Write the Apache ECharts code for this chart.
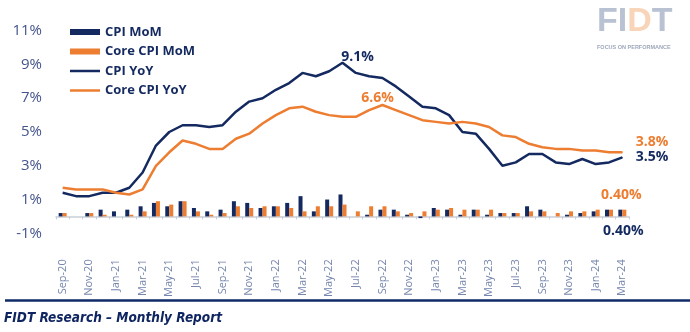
<!DOCTYPE html>
<html><head><meta charset="utf-8">
<script src="https://cdn.jsdelivr.net/npm/echarts@6/dist/echarts.min.js"></script>
<style>html,body{margin:0;padding:0;background:#fff}#c{width:690px;height:332px}</style>
</head><body><div id="c"></div>
<script>
const categories = ['Sep-20','Oct-20','Nov-20','Dec-20','Jan-21','Feb-21','Mar-21','Apr-21','May-21','Jun-21','Jul-21','Aug-21','Sep-21','Oct-21','Nov-21','Dec-21','Jan-22','Feb-22','Mar-22','Apr-22','May-22','Jun-22','Jul-22','Aug-22','Sep-22','Oct-22','Nov-22','Dec-22','Jan-23','Feb-23','Mar-23','Apr-23','May-23','Jun-23','Jul-23','Aug-23','Sep-23','Oct-23','Nov-23','Dec-23','Jan-24','Feb-24','Mar-24'];
const cpiMoM  = [0.2,0.0,0.2,0.4,0.3,0.4,0.6,0.8,0.6,0.9,0.5,0.3,0.4,0.9,0.8,0.5,0.6,0.8,1.2,0.3,1.0,1.3,0.0,0.1,0.4,0.4,0.1,-0.1,0.5,0.4,0.1,0.4,0.1,0.2,0.2,0.6,0.4,0.0,0.1,0.2,0.3,0.4,0.4];
const coreMoM = [0.2,0.0,0.2,0.1,0.0,0.1,0.3,0.9,0.7,0.9,0.3,0.1,0.2,0.6,0.5,0.6,0.6,0.5,0.3,0.6,0.6,0.7,0.3,0.6,0.6,0.3,0.2,0.3,0.4,0.5,0.4,0.4,0.4,0.2,0.2,0.3,0.3,0.2,0.3,0.3,0.4,0.4,0.4];
const cpiYoY  = [1.4,1.2,1.2,1.4,1.4,1.7,2.6,4.2,5.0,5.4,5.4,5.3,5.4,6.2,6.8,7.0,7.5,7.9,8.5,8.3,8.6,9.1,8.5,8.3,8.2,7.7,7.1,6.5,6.4,6.0,5.0,4.9,4.0,3.0,3.2,3.7,3.7,3.2,3.1,3.4,3.1,3.2,3.5];
const coreYoY = [1.7,1.6,1.6,1.6,1.4,1.3,1.6,3.0,3.8,4.5,4.3,4.0,4.0,4.6,4.9,5.5,6.0,6.4,6.5,6.2,6.0,5.9,5.9,6.3,6.6,6.3,6.0,5.7,5.6,5.5,5.6,5.5,5.3,4.8,4.7,4.3,4.1,4.0,4.0,3.9,3.9,3.8,3.8];
const seriesNames = ['CPI MoM','Core CPI MoM','CPI YoY','Core CPI YoY'];
const yMin = -1, yMax = 11, yStep = 2;

const NAVY = '#13295f', ORANGE = '#ed7d31';
const last = categories.length - 1;
const LINE_ICON = 'path://M0,0L36,0L36,3L0,3Z';

function lineData(arr, color, peakOffset) {
  const peak = arr.indexOf(Math.max(...arr));
  return arr.map((v, i) => {
    if (i === peak) return {value: v, symbol: 'circle', symbolSize: 1,
      label: {show: true, position: 'top', offset: peakOffset, formatter: p => p.value.toFixed(1) + '%',
        color: color, fontWeight: 'bold', fontSize: 14, fontFamily: 'Open Sans'}};
    if (i === last) return {value: v, symbol: 'circle', symbolSize: 1,
      label: {show: true, position: 'right', distance: 13, offset: color === ORANGE ? [0, -10] : [0, 0],
        formatter: p => p.value.toFixed(1) + '%', color: color, fontWeight: 'bold', fontSize: 14, fontFamily: 'Open Sans'}};
    return v;
  });
}
function barData(arr, color, pos, off) {
  return arr.map((v, i) => i === last ? {value: v, label: {show: true, position: pos, distance: 8, offset: off,
    formatter: p => p.value.toFixed(2) + '%', color: color, fontWeight: 'bold', fontSize: 14, fontFamily: 'Open Sans'}} : v);
}

const chart = echarts.init(document.getElementById('c'), null, {renderer: 'canvas'});
chart.setOption({
  animation: false,
  backgroundColor: '#fff',
  grid: {left: 56, right: 61, top: 30.7, bottom: 98.7, containLabel: false},
  legend: {
    orient: 'vertical', left: 70, top: 25, padding: 0, itemWidth: 30, itemHeight: 6, itemGap: 5.5,
    data: [
      {name: seriesNames[0], icon: 'rect'},
      {name: seriesNames[1], icon: 'rect'},
      {name: seriesNames[2], icon: LINE_ICON, itemStyle: {color: NAVY}},
      {name: seriesNames[3], icon: LINE_ICON, itemStyle: {color: ORANGE}}
    ],
    textStyle: {color: NAVY, fontWeight: 'bold', fontSize: 13, fontFamily: 'Open Sans', lineHeight: 14}
  },
  xAxis: {
    type: 'category', data: categories,
    axisLine: {onZero: true, lineStyle: {color: '#c9ced8', width: 1.5}},
    axisTick: {show: true, interval: 0, length: 3, lineStyle: {color: '#c9ced8'}},
    axisLabel: {interval: 1, rotate: 90, margin: 26, fontSize: 11, color: '#7585ad', fontFamily: 'Open Sans'}
  },
  yAxis: {
    type: 'value', min: yMin, max: yMax, interval: yStep,
    axisLine: {show: false}, axisTick: {show: false}, splitLine: {show: false},
    axisLabel: {margin: 14, fontSize: 15, color: '#44548c', fontFamily: 'Open Sans', formatter: v => v + '%'}
  },
  series: [
    {name: seriesNames[0], type: 'bar', data: barData(cpiMoM, NAVY, 'bottom', [3, 0]), barWidth: 4, barGap: '0%', itemStyle: {color: NAVY}},
    {name: seriesNames[1], type: 'bar', data: barData(coreMoM, ORANGE, 'top', [-3, 0]), barWidth: 4, barGap: '0%', itemStyle: {color: ORANGE}},
    {name: seriesNames[2], type: 'line', data: lineData(cpiYoY, NAVY, [15, 7]), symbol: 'none', lineStyle: {color: NAVY, width: 2.5}, itemStyle: {color: NAVY}, z: 3},
    {name: seriesNames[3], type: 'line', data: lineData(coreYoY, ORANGE, [-5, 6]), symbol: 'none', lineStyle: {color: ORANGE, width: 2.5}, itemStyle: {color: ORANGE}, z: 3}
  ],
  graphic: [
    {type: 'line', shape: {x1: 5, y1: 300.5, x2: 690, y2: 300.5}, style: {stroke: '#0f2a66', lineWidth: 2.5}},
    {type: 'text', left: 4, top: 311.5, style: {text: 'FIDT Research \u2013 Monthly Report', fill: '#0f2561',
      font: 'italic bold 13.5px "DejaVu Sans Condensed", "DejaVu Sans"'}},
    {type: 'text', left: 597, top: 5, style: {text: '{g|FI}{o|D}{g|T}', rich: {
      g: {fill: '#b8c2d2', font: 'bold 34px "Liberation Sans"'},
      o: {fill: '#f8d4b9', font: 'bold 34px "Liberation Sans"'}}}},
    {type: 'text', left: 597, top: 44, style: {text: 'FOCUS ON PERFORMANCE', fill: '#9ea8ba', font: 'bold 5.5px "Liberation Sans"'}}
  ]
});
</script></body></html>
